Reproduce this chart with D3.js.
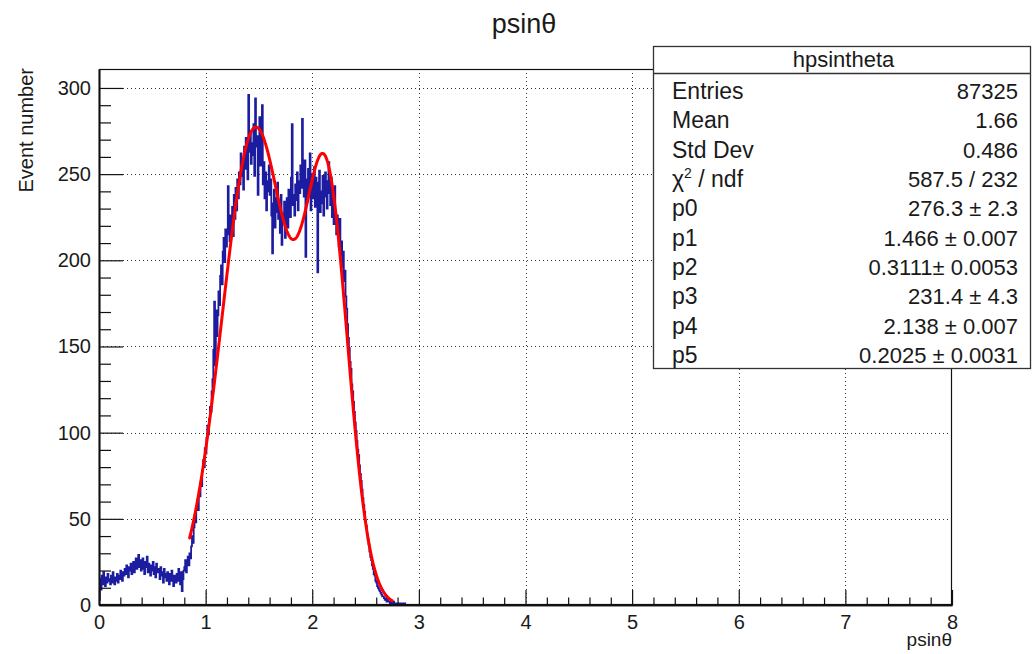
<!DOCTYPE html>
<html>
<head>
<meta charset="utf-8">
<script src="https://cdn.jsdelivr.net/npm/d3@7/dist/d3.min.js"></script>
<style>
  body { margin: 0; background: #fff; }
  svg { display: block; }
  text { font-family: "Liberation Sans", Arial, Helvetica, sans-serif; fill: #1a1a1a; }
</style>
</head>
<body>
<svg id="chart" width="1032" height="654"></svg>
<script>
// Histogram hpsintheta: 1000 bins on [0, 8]; only the first bins hold entries,
// every bin after the listed ones is empty.
const histRange = [0, 8];
const nBins = 1000;
const counts = [
  3, 15, 9, 17, 12, 19, 14, 11, 16, 13,
  18, 14, 15, 12, 17, 13, 19, 15, 12, 16,
  14, 18, 13, 17, 15, 20, 16, 14, 19, 17,
  21, 18, 23, 19, 16, 22, 20, 24, 18, 22,
  25, 19, 23, 27, 21, 24, 29, 22, 26, 20,
  23, 27, 21, 18, 25, 22, 28, 19, 24, 21,
  17, 23, 20, 25, 18, 22, 16, 24, 19, 21,
  20, 15, 22, 17, 19, 13, 21, 16, 18, 14,
  19, 15, 12, 18, 14, 20, 16, 11, 17, 15,
  13, 18, 14, 21, 16, 12, 19, 8, 15, 20,
  22, 26, 19, 24, 28, 23, 30, 27, 34, 40,
  36, 45, 52, 48, 57, 61, 55, 66, 63, 71,
  69, 78, 84, 80, 91, 88, 97, 104, 99, 108,
  115, 112, 124, 131, 148, 176, 139, 171, 156, 168,
  182, 174, 191, 197, 186, 205, 213, 199, 218, 208,
  215, 243, 222, 211, 226, 219, 231, 214, 238, 224,
  242, 229, 247, 236, 251, 244, 262, 249, 258, 241,
  266, 253, 271, 258, 247, 296, 263, 275, 256, 268,
  261, 279, 249, 294, 266, 272, 238, 270, 283, 255,
  262, 290, 244, 257, 236, 251, 229, 246, 240, 255,
  238, 247, 226, 204, 233, 241, 219, 236, 228, 245,
  224, 231, 216, 238, 209, 227, 222, 234, 213, 229,
  236, 219, 241, 228, 225, 248, 279, 232, 238, 226,
  244, 235, 251, 229, 246, 239, 255, 242, 282, 248,
  237, 258, 202, 247, 234, 253, 241, 262, 229, 250,
  243, 236, 254, 231, 248, 239, 193, 245, 252, 228,
  240, 233, 249, 226, 244, 251, 237, 230, 246, 257,
  239, 232, 248, 225, 236, 221, 243, 228, 215, 226,
  219, 208, 224, 203, 211, 196, 205, 188, 194, 179,
  172, 163, 155, 149, 141, 137, 128, 124, 118, 112,
  106, 101, 95, 90, 87, 81, 76, 72, 67, 62,
  58, 54, 49, 46, 41, 38, 35, 31, 28, 26,
  23, 21, 18, 17, 14, 13, 11, 10, 9, 8,
  7, 6, 5, 5, 4, 3, 4, 2, 3, 2,
  2, 1, 2, 1, 1, 2, 0, 1, 1, 0,
  1, 0, 0, 1, 0, 1, 0, 0, 1, 0
];

// Double-Gaussian fit: p0*exp(-0.5((x-p1)/p2)^2) + p3*exp(-0.5((x-p4)/p5)^2)
const fitParams = [276.3, 1.466, 0.3111, 231.4, 2.138, 0.2025];
const fitRange = [0.85, 2.75];

const xTickValues = [0, 1, 2, 3, 4, 5, 6, 7, 8];
const yTickValues = [0, 50, 100, 150, 200, 250, 300];
const yMax = 311;

const titleText = "psinθ";
const xTitle = "psinθ";
const yTitle = "Event number";

const statsName = "hpsintheta";
const statsLabels = ["Entries", "Mean", "Std Dev", "χ2 / ndf", "p0", "p1", "p2", "p3", "p4", "p5"];
const statsValues = ["87325", "1.66", "0.486", "587.5 / 232", "276.3 ± 2.3", "1.466 ± 0.007",
                     "0.3111± 0.0053", "231.4 ± 4.3", "2.138 ± 0.007", "0.2025 ± 0.0031"];

// ---- layout ----
const W = 1032, H = 654;
const frame = { left: 99, right: 952, top: 69, bottom: 605 };

const svg = d3.select("#chart");
svg.append("rect").attr("width", W).attr("height", H).attr("fill", "#fff");

const x = d3.scaleLinear().domain(histRange).range([frame.left, frame.right]);
const y = d3.scaleLinear().domain([0, yMax]).range([frame.bottom, frame.top]);

svg.append("defs").append("clipPath").attr("id", "frameClip")
  .append("rect")
  .attr("x", frame.left).attr("y", frame.top)
  .attr("width", frame.right - frame.left).attr("height", frame.bottom - frame.top);

// dotted grid at the major ticks
const grid = svg.append("g").attr("stroke", "#333").attr("stroke-width", 1)
  .attr("stroke-dasharray", "1,3");
grid.selectAll("line.gx").data(xTickValues.slice(1, -1)).join("line")
  .attr("x1", d => Math.round(x(d)) + 0.5).attr("x2", d => Math.round(x(d)) + 0.5)
  .attr("y1", frame.top).attr("y2", frame.bottom);
grid.selectAll("line.gy").data(yTickValues.slice(1)).join("line")
  .attr("y1", d => Math.round(y(d)) + 0.5).attr("y2", d => Math.round(y(d)) + 0.5)
  .attr("x1", frame.left).attr("x2", frame.right);

// histogram as a step outline
const binWidth = (histRange[1] - histRange[0]) / nBins;
const steps = [{ e: histRange[0], c: 0 }];
counts.forEach((c, i) => steps.push({ e: histRange[0] + i * binWidth, c }));
steps.push({ e: histRange[0] + counts.length * binWidth, c: 0 });
steps.push({ e: histRange[1], c: 0 });

const stepLine = d3.line().x(d => x(d.e)).y(d => y(d.c)).curve(d3.curveStepAfter);
svg.append("path")
  .attr("clip-path", "url(#frameClip)")
  .attr("d", stepLine(steps))
  .attr("fill", "none").attr("stroke", "#1c1ca0").attr("stroke-width", 1.8)
  .attr("stroke-linejoin", "miter");

// fit curve
function fitFn(v) {
  const [a0, m0, s0, a1, m1, s1] = fitParams;
  return a0 * Math.exp(-0.5 * ((v - m0) / s0) ** 2) + a1 * Math.exp(-0.5 * ((v - m1) / s1) ** 2);
}
const fitX = d3.range(fitRange[0], fitRange[1], 0.002).concat([fitRange[1]]);
svg.append("path")
  .attr("clip-path", "url(#frameClip)")
  .attr("d", d3.line().x(d => x(d)).y(d => y(fitFn(d)))(fitX))
  .attr("fill", "none").attr("stroke", "#ff0000").attr("stroke-width", 3)
  .attr("stroke-linejoin", "round").attr("stroke-linecap", "round");

// frame
svg.append("rect")
  .attr("x", frame.left + 0.5).attr("y", frame.top + 0.5)
  .attr("width", frame.right - frame.left - 1).attr("height", frame.bottom - frame.top - 1)
  .attr("fill", "none").attr("stroke", "#111").attr("stroke-width", 1.2);

// x axis: major ticks with labels, minor ticks every 0.2
const xMinor = d3.range(1, 40).map(i => i * 0.2).filter(v => Math.abs(v - Math.round(v)) > 1e-6);
const xAxisG = svg.append("g").attr("transform", `translate(0,${frame.bottom})`)
  .call(d3.axisBottom(x).tickValues(xTickValues).tickFormat(d3.format("d"))
    .tickSizeInner(-15).tickSizeOuter(0).tickPadding(10));
xAxisG.append("g").call(d3.axisBottom(x).tickValues(xMinor).tickFormat("")
  .tickSizeInner(-7.5).tickSizeOuter(0));
xAxisG.selectAll(".domain").attr("stroke", "#111").attr("stroke-width", 1.6);
xAxisG.selectAll(".tick line").attr("stroke", "#111").attr("stroke-width", 1.2);
xAxisG.selectAll("text").attr("font-size", 20).attr("fill", "#1a1a1a")
  .attr("font-family", '"Liberation Sans", Arial, sans-serif');

// y axis: major ticks with labels, minor every 10
const yMinor = d3.range(1, 31).map(i => i * 10).filter(v => v % 50 !== 0);
const yAxisG = svg.append("g").attr("transform", `translate(${frame.left},0)`)
  .call(d3.axisLeft(y).tickValues(yTickValues).tickFormat(d3.format("d"))
    .tickSizeInner(-24).tickSizeOuter(0).tickPadding(8));
yAxisG.append("g").call(d3.axisLeft(y).tickValues(yMinor).tickFormat("")
  .tickSizeInner(-12).tickSizeOuter(0));
yAxisG.selectAll(".domain").attr("stroke", "#111").attr("stroke-width", 1.6);
yAxisG.selectAll(".tick line").attr("stroke", "#111").attr("stroke-width", 1.2);
yAxisG.selectAll("text").attr("font-size", 20).attr("fill", "#1a1a1a")
  .attr("font-family", '"Liberation Sans", Arial, sans-serif');

// axis titles
svg.append("text").attr("x", frame.right).attr("y", 646)
  .attr("text-anchor", "end").attr("font-size", 19).text(xTitle);
svg.append("text").attr("transform", `translate(33,${frame.top - 1}) rotate(-90)`)
  .attr("text-anchor", "end").attr("font-size", 20).text(yTitle);

// title
svg.append("text").attr("x", 524).attr("y", 33)
  .attr("text-anchor", "middle").attr("font-size", 27).text(titleText);

// statistics box
const box = { x: 653, y: 46, w: 377, h: 322, headH: 27 };
const sb = svg.append("g");
sb.append("rect").attr("x", box.x + 0.5).attr("y", box.y + 0.5).attr("width", box.w).attr("height", box.h)
  .attr("fill", "#fff").attr("stroke", "#333").attr("stroke-width", 1.3);
sb.append("line").attr("x1", box.x).attr("x2", box.x + box.w)
  .attr("y1", box.y + box.headH + 0.5).attr("y2", box.y + box.headH + 0.5)
  .attr("stroke", "#333").attr("stroke-width", 1.3);
sb.append("text").attr("x", box.x + box.w / 2 + 2).attr("y", box.y + 21)
  .attr("text-anchor", "middle").attr("font-size", 22).text(statsName);

const rowY = d3.scaleLinear().domain([0, statsLabels.length - 1]).range([99, 363]);
statsLabels.forEach((lab, i) => {
  const t = sb.append("text").attr("x", 672).attr("y", rowY(i)).attr("font-size", 23);
  if (lab.startsWith("χ2")) {
    t.append("tspan").text("χ");
    t.append("tspan").attr("dy", -9).attr("font-size", 14).text("2");
    t.append("tspan").attr("dy", 9).text(lab.slice(2));
  } else {
    t.text(lab);
  }
  sb.append("text").attr("x", 1018).attr("y", rowY(i)).attr("text-anchor", "end")
    .attr("font-size", 22).text(statsValues[i]);
});
</script>
</body>
</html>
